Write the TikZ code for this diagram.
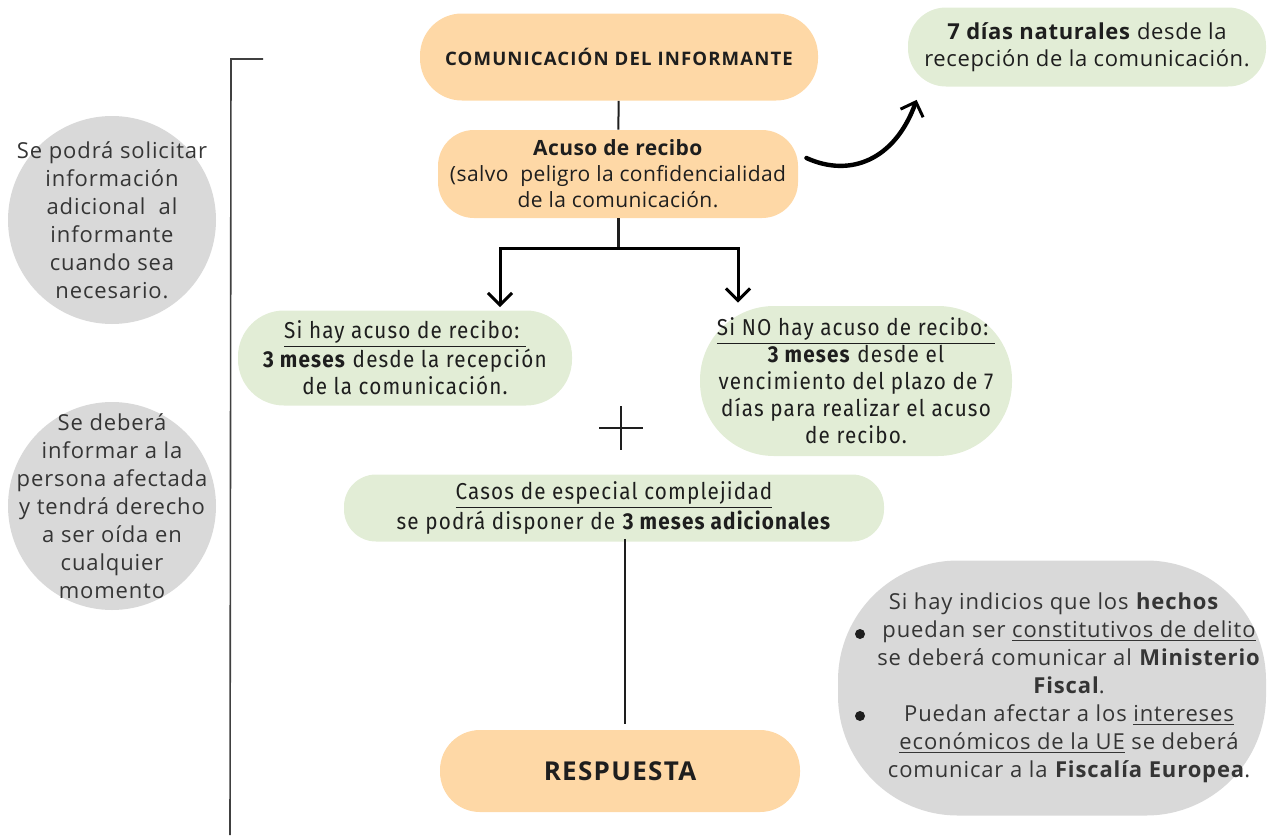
\documentclass[tikz,border=0pt]{standalone}
\usepackage{fontspec}
\setmainfont{Open Sans}
\newfontfamily\condensada[FakeStretch=0.9,LetterSpace=5]{Fira Sans}
\usetikzlibrary{positioning,arrows.meta}

\definecolor{naranja}{RGB}{254,216,166}
\definecolor{verde}{RGB}{226,237,214}
\definecolor{gris}{RGB}{217,217,217}
\definecolor{texto}{RGB}{30,30,30}

\tikzset{
  pastilla/.style={fill=naranja, align=center, text=texto, inner sep=0pt},
  cajaverde/.style={fill=verde, align=center, text=texto, inner sep=0pt,
    font=\condensada\fontsize{11.5}{13.5}\selectfont},
  circulogris/.style={fill=gris, circle, minimum size=104pt, inner sep=0pt},
  textogris/.style={align=center, text=texto!90!white,
    font=\fontsize{11}{14}\selectfont\addfontfeatures{LetterSpace=4}},
  flecha/.style={line width=1.5pt, line cap=round, -{Straight Barb[length=6pt,width=12pt,line width=1.5pt]}},
  linea/.style={line width=1pt, texto},
}

\begin{document}
\begin{tikzpicture}[x=0.5pt, y=-0.5pt]
\useasboundingbox (0,0) rectangle (1273,835);

% columna central
\node[pastilla, minimum width=199pt, minimum height=43.5pt, rounded corners=21pt,
  font=\fontsize{9.3}{12}\selectfont\bfseries\addfontfeatures{LetterSpace=6}] (com) at (619,57) {COMUNICACIÓN DEL INFORMANTE};
\node[pastilla, minimum width=180pt, minimum height=44pt, rounded corners=18pt,
  font=\fontsize{10.5}{13}\selectfont\addfontfeatures{LetterSpace=2}] (acuso) at (618,174)
  {\textbf{Acuso de recibo}\\(salvo\ \ peligro la confidencialidad\\de la comunicación.};
\node[cajaverde, minimum width=179pt, minimum height=39.5pt, rounded corners=19pt,
  font=\fontsize{11}{13.5}\selectfont\addfontfeatures{LetterSpace=3}] (siete) at (1087,47)
  {\textbf{7 días naturales} desde la\\recepción de la comunicación.};

\node[cajaverde, minimum width=167pt, minimum height=47.5pt, rounded corners=23pt] (si) at (405,358)
  {\underline{Si hay acuso de recibo:\ }\\\textbf{3 meses} desde la recepción\\de la comunicación.};
\node[cajaverde, minimum width=156pt, minimum height=75pt, rounded corners=37pt] (sino) at (856,381)
  {\underline{Si NO hay acuso de recibo:\ }\\\textbf{3 meses} desde el\\vencimiento del plazo de 7\\días para realizar el acuso\\de recibo.};
\node[cajaverde, minimum width=270pt, minimum height=33.5pt, rounded corners=16pt] (casos) at (614,508)
  {\underline{Casos de especial complejidad}\\se podrá disponer de \textbf{3 meses adicionales}};
\node[pastilla, minimum width=180pt, minimum height=41pt, rounded corners=20pt,
  font=\fontsize{13}{15}\selectfont\bfseries\addfontfeatures{LetterSpace=5}] (resp) at (620,771) {RESPUESTA};

% notas grises
\node[circulogris] (circ1) at (112,220) {};
\node[textogris] (nota1) at (circ1)
  {Se podrá solicitar\\información\\adicional\ \ al\\informante\\cuando sea\\necesario.};
\node[circulogris] (circ2) at (112,506) {};
\node[textogris] (nota2) at (circ2)
  {Se deberá\\informar a la\\persona afectada\\y tendrá derecho\\a ser oída en\\cualquier\\momento};
\node[fill=gris, minimum width=214pt, minimum height=127.5pt, rounded corners=60pt] (delito) at (1052,688) {};
\node[textogris] (notadelito) at (1069,688)
  {Si hay indicios que los \textbf{hechos}\hspace*{15pt}\\
   puedan ser \underline{constitutivos de delito}\\
   se deberá comunicar al \textbf{Ministerio}\\
   \textbf{Fiscal}.\\
   Puedan afectar a los \underline{intereses}\\
   \underline{económicos de la UE} se deberá\\
   comunicar a la \textbf{Fiscalía Europea}.};
\fill[texto] (860,634) circle (2.5pt);
\fill[texto] (860,716) circle (2.5pt);

% conectores
\draw[linea] (com) -- (acuso);
\draw[line width=1.5pt, texto] (acuso.south) -- ++(0,30) coordinate (rama);
\draw[flecha] (rama) -| ([shift={(95,-3)}]si.north);
\draw[flecha] (rama) -| ([shift={(-118,-3)}]sino.north);
\draw[flecha, line width=2.2pt] ([shift={(8,-16)}]acuso.east) .. controls (850,178) and (895,160) .. ([shift={(9,13)}]siete.south west);
\draw[linea] ([shift={(11,-3)}]casos.south) -- ([shift={(5,-6)}]resp.north);

% signo mas
\coordinate (mas) at (621,428);
\draw[line width=0.8pt, texto] (mas) +(-22,0) -- +(22,0) (mas) +(0,-22) -- +(0,22);

% corchete izquierdo
\coordinate (llave) at (263,59);
\draw[line width=0.8pt, gray!50!black] (llave) -- (231,59) -- (230,835);
\end{tikzpicture}
\end{document}
